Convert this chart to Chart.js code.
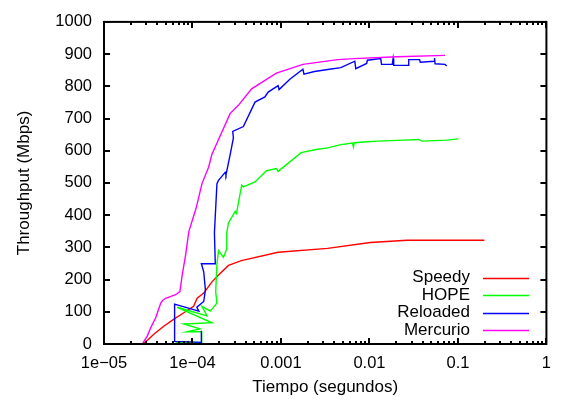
<!DOCTYPE html>
<html>
<head>
<meta charset="utf-8">
<title>Throughput</title>
<script src="https://cdn.jsdelivr.net/npm/chart.js@4.4.1/dist/chart.umd.min.js"></script>
<style>
  html, body { margin: 0; padding: 0; background: #fff; }
</style>
</head>
<body>
<canvas id="throughput" width="561" height="401"></canvas>
<script>
// time (s) / throughput (Mbps) pairs, in the order they were logged
var speedyT = [2.85e-5, 3.68e-5, 4.77e-5, 6.17e-5, 7.99e-5, 1.03e-4, 1.13e-4, 1.34e-4, 1.66e-4, 1.97e-4,
  2.55e-4, 3.57e-4, 9.28e-4, 3.37e-3, 1.02e-2, 2.66e-2, 0.199];
var speedyV = [2, 31, 56, 77, 97, 117, 142, 158, 193, 214, 244, 259, 285, 297, 315, 322, 322];

var hopeT = [6.42e-5, 1.27e-4, 1.27e-4, 8.63e-5, 1.21e-4, 7.99e-5, 1.66e-4, 6.72e-5, 1.46e-4, 1.28e-4,
  1.59e-4, 1.89e-4, 1.83e-4, 1.89e-4, 1.97e-4, 2.24e-4, 2.44e-4, 2.44e-4, 2.55e-4, 3.04e-4,
  3.14e-4, 3.60e-4, 3.76e-4, 5.09e-4, 6.86e-4, 8.88e-4, 9.28e-4, 1.69e-3, 2.49e-3, 3.37e-3,
  4.75e-3, 6.43e-3, 6.60e-3, 6.75e-3, 9.47e-3, 1.23e-2, 2.44e-2, 3.60e-2, 3.92e-2, 7.47e-2, 0.101];
var hopeV = [5, 5, 38, 38, 47, 62, 66, 114, 87, 117,
  102, 127, 163, 249, 290, 269, 295, 345, 376, 412,
  405, 493, 488, 503, 538, 545, 536, 594, 604, 609,
  619, 624, 612, 625, 628, 630, 633, 635, 630, 633, 637];

var reloadedT = [1.26e-4, 1.26e-4, 6.28e-5, 6.28e-5, 1.18e-4, 1.12e-4, 1.34e-4, 1.40e-4, 1.34e-4, 1.26e-4,
  1.81e-4, 1.77e-4, 1.89e-4, 1.97e-4, 2.34e-4, 2.39e-4, 2.67e-4, 2.90e-4, 2.85e-4, 3.76e-4,
  5.09e-4, 6.58e-4, 7.17e-4, 9.28e-4, 9.52e-4, 1.26e-3, 1.77e-3, 1.82e-3, 2.39e-3, 3.53e-3,
  4.75e-3, 6.83e-3, 7.00e-3, 9.30e-3, 9.47e-3, 1.34e-2, 1.37e-2, 1.81e-2, 1.85e-2, 1.88e-2,
  2.78e-2, 2.78e-2, 3.69e-2, 3.75e-2, 5.38e-2, 5.44e-2, 5.52e-2, 7.15e-2, 7.47e-2];
var reloadedV = [41, 5, 8, 124, 102, 114, 132, 168, 224, 249,
  249, 345, 498, 508, 533, 525, 589, 640, 660, 675,
  751, 767, 782, 802, 790, 822, 853, 838, 846, 853,
  858, 878, 855, 871, 881, 886, 868, 868, 886, 865,
  865, 883, 883, 875, 878, 888, 870, 868, 863];

var mercurioT = [2.74e-5, 3.10e-5, 3.38e-5, 3.85e-5, 4.38e-5, 4.59e-5, 4.98e-5, 6.45e-5, 7.21e-5, 7.34e-5,
  7.65e-5, 8.35e-5, 9.09e-5, 1.10e-4, 1.28e-4, 1.52e-4, 1.66e-4, 1.97e-4, 2.67e-4, 3.30e-4,
  4.66e-4, 8.88e-4, 1.77e-3, 4.37e-3, 6.72e-3, 2.06e-2, 7.15e-2];
var mercurioV = [2, 26, 51, 82, 127, 135, 142, 153, 163, 178,
  214, 275, 349, 422, 498, 549, 589, 635, 716, 741,
  792, 841, 868, 883, 886, 892, 896];

var seriesNames = ['Speedy', 'HOPE', 'Reloaded', 'Mercurio'];
var seriesColors = ['#ff0000', '#00ff00', '#0000ff', '#ff00ff'];

var xTickValues = [1e-5, 1e-4, 1e-3, 1e-2, 1e-1, 1];
var xTickLabels = ['1e\u221205', '1e\u221204', '0.001', '0.01', '0.1', '1'];
var yTickValues = [0, 100, 200, 300, 400, 500, 600, 700, 800, 900, 1000];

var FONT = '"Liberation Sans", Arial, Helvetica, sans-serif';
var LINE_W = 1.4;

function pairs(ts, vs) {
  return ts.map(function (t, i) { return { x: t, y: vs[i] }; });
}

var allT = [speedyT, hopeT, reloadedT, mercurioT];
var allV = [speedyV, hopeV, reloadedV, mercurioV];

var datasets = seriesNames.map(function (name, i) {
  return {
    label: name,
    data: pairs(allT[i], allV[i]),
    borderColor: seriesColors[i],
    backgroundColor: seriesColors[i],
    borderWidth: LINE_W,
    showLine: true,
    pointRadius: 0,
    tension: 0,
    order: seriesNames.length - i   // last series ends up on top
  };
});

// gnuplot style border with inward ticks on every side
var framePlugin = {
  id: 'frame',
  afterDatasetsDraw: function (chart) {
    var ctx = chart.ctx, a = chart.chartArea;
    var xs = chart.scales.x, ys = chart.scales.y;
    ctx.save();
    ctx.strokeStyle = '#000';
    ctx.lineWidth = 2;
    ctx.beginPath();
    yTickValues.forEach(function (v) {
      var p = Math.round(ys.getPixelForValue(v));
      ctx.moveTo(a.left, p); ctx.lineTo(a.left + 6, p);
      ctx.moveTo(a.right, p); ctx.lineTo(a.right - 6, p);
    });
    for (var d = -5; d <= 0; d++) {
      for (var m = 1; m <= 9; m++) {
        var v = m * Math.pow(10, d);
        if (v > 1.0001) break;
        var len = m === 1 ? 6 : 3;
        var p = Math.round(xs.getPixelForValue(v));
        ctx.moveTo(p, a.bottom); ctx.lineTo(p, a.bottom - len);
        ctx.moveTo(p, a.top); ctx.lineTo(p, a.top + len);
      }
    }
    ctx.stroke();
    ctx.strokeRect(a.left, a.top, a.right - a.left, a.bottom - a.top);
    ctx.restore();
  }
};

// key in the lower right corner: name first, line sample after it
var keyPlugin = {
  id: 'key',
  afterDatasetsDraw: function (chart) {
    var ctx = chart.ctx;
    ctx.save();
    ctx.font = '17px ' + FONT;
    ctx.textAlign = 'right';
    ctx.textBaseline = 'middle';
    chart.data.datasets.forEach(function (ds, i) {
      var y = 277.5 + i * 17.5;
      ctx.fillStyle = '#000';
      ctx.fillText(ds.label, 470, y);
      ctx.strokeStyle = ds.borderColor;
      ctx.lineWidth = LINE_W;
      ctx.beginPath();
      ctx.moveTo(483, Math.round(y) + 0.5);
      ctx.lineTo(529, Math.round(y) + 0.5);
      ctx.stroke();
    });
    ctx.restore();
  }
};

Chart.defaults.font.family = FONT;
Chart.defaults.color = '#000';

new Chart(document.getElementById('throughput'), {
  type: 'scatter',
  data: { datasets: datasets },
  options: {
    responsive: false,
    animation: false,
    devicePixelRatio: 1,
    layout: { padding: { top: 15, right: 10, left: 0, bottom: 0 } },
    plugins: { legend: { display: false }, tooltip: { enabled: false } },
    scales: {
      x: {
        type: 'logarithmic',
        min: 1e-5,
        max: 1,
        grid: { display: false, drawTicks: false },
        border: { display: false },
        afterBuildTicks: function (s) {
          s.ticks = xTickValues.map(function (v) { return { value: v }; });
        },
        afterFit: function (s) { s.height = 57; },
        ticks: {
          autoSkip: false,
          maxRotation: 0,
          padding: 10,
          font: { size: 16.5 },
          callback: function (value) {
            var i = xTickValues.findIndex(function (v) {
              return Math.abs(Math.log10(v) - Math.log10(value)) < 1e-6;
            });
            return i >= 0 ? xTickLabels[i] : '';
          }
        },
        title: {
          display: true,
          text: 'Tiempo (segundos)',
          font: { size: 17, lineHeight: 1.2 },
          padding: { top: 0, bottom: 3 }
        }
      },
      y: {
        min: 0,
        max: 1000,
        grid: { display: false, drawTicks: false },
        border: { display: false },
        afterBuildTicks: function (s) {
          s.ticks = yTickValues.map(function (v) { return { value: v }; });
        },
        afterFit: function (s) { s.width = 104; },
        ticks: {
          padding: 12,
          font: { size: 16.5 },
          callback: function (value) { return String(value); }
        },
        title: {
          display: true,
          text: 'Throughput (Mbps)',
          font: { size: 17, lineHeight: 1.2 },
          padding: { top: 14, bottom: 0 }
        }
      }
    }
  },
  plugins: [framePlugin, keyPlugin]
});
</script>
</body>
</html>
